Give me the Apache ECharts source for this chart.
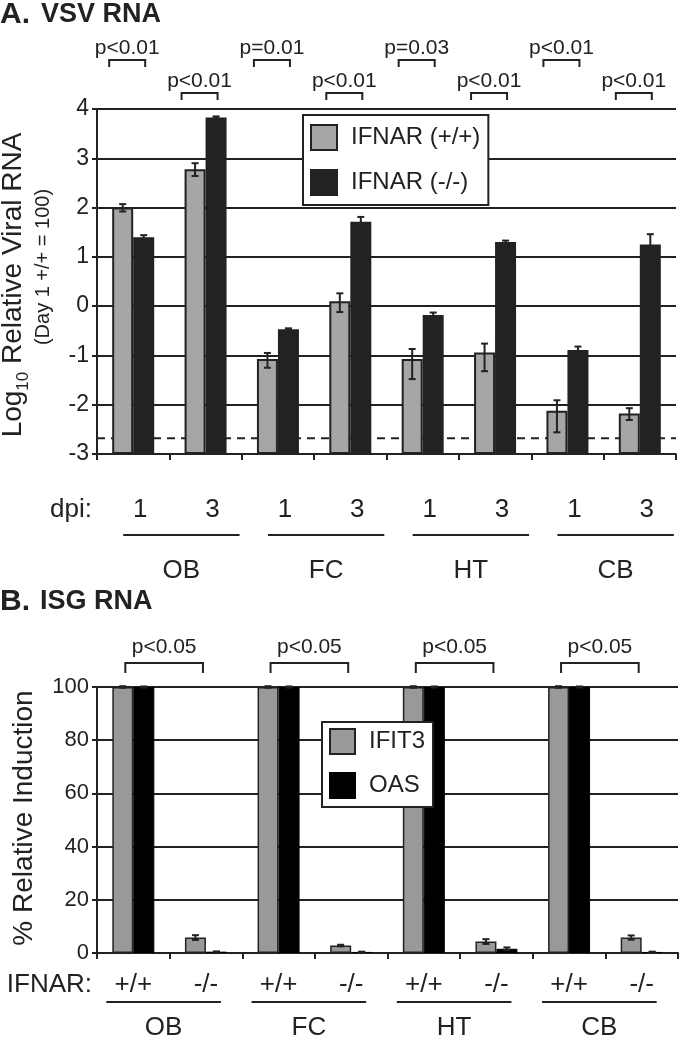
<!DOCTYPE html>
<html><head><meta charset="utf-8">
<script src="https://cdn.jsdelivr.net/npm/echarts@6/dist/echarts.min.js"></script>
<style>html,body{margin:0;padding:0;background:#fff}#c{width:680px;height:1038px}</style>
</head><body><div id="c"></div><script>
// ---------- data ----------
const dpiLabels = ['1', '3', '1', '3', '1', '3', '1', '3'];
const tissues = ['OB', 'FC', 'HT', 'CB'];
const wtVSV     = [2.00, 2.78, -1.07, 0.10, -1.07, -0.94, -2.12, -2.18];
const wtVSVHigh = [2.07, 2.90, -0.95, 0.26, -0.87, -0.76, -1.91, -2.07];
const wtVSVLow  = [1.92, 2.64, -1.25, -0.12, -1.48, -1.32, -2.56, -2.31];
const koVSV     = [1.40, 3.83, -0.47, 1.71, -0.18, 1.30, -0.89, 1.25];
const koVSVHigh = [1.44, 3.85, -0.45, 1.81, -0.13, 1.33, -0.82, 1.46];
const koVSVLow  = [1.36, 3.81, -0.49, 1.61, -0.23, 1.27, -0.96, 1.04];
const vsvAxisMin = -3;
const detectionLimit = -2.68;
const pDay1 = ['p<0.01', 'p=0.01', 'p=0.03', 'p<0.01'];
const pDay3 = ['p<0.01', 'p<0.01', 'p<0.01', 'p<0.01'];
const ifnarLabels = ['+/+', '-/-', '+/+', '-/-', '+/+', '-/-', '+/+', '-/-'];
const ifit3    = [100, 5.8, 100, 2.8, 100, 4.3, 100, 5.8];
const ifit3Err = [0.3, 0.9, 0.3, 0.3, 0.3, 0.9, 0.3, 0.8];
const oas      = [100, 0.5, 100, 0.4, 100, 1.6, 100, 0.4];
const oasErr   = [0.2, 0.1, 0.2, 0.1, 0.2, 0.5, 0.2, 0.1];
const pISG = ['p<0.05', 'p<0.05', 'p<0.05', 'p<0.05'];

// ---------- style ----------
const font = 'Liberation Sans, Arial, Helvetica, sans-serif';
const ink = '#222';
const BW = 21;

function errRender(offset) {
  return function (params, api) {
    const i = api.value(0);
    const hi = api.coord([i, api.value(1)]);
    const lo = api.coord([i, api.value(2)]);
    const x = hi[0] + offset, w = 3.5;
    const st = { stroke: ink, lineWidth: 2 };
    return { type: 'group', children: [
      { type: 'line', shape: { x1: x, y1: hi[1], x2: x, y2: lo[1] }, style: st },
      { type: 'line', shape: { x1: x - w, y1: hi[1], x2: x + w, y2: hi[1] }, style: st },
      { type: 'line', shape: { x1: x - w, y1: lo[1], x2: x + w, y2: lo[1] }, style: st }
    ]};
  };
}
function valAxis(grid, min, max, interval, size) {
  return {
    type: 'value', gridIndex: grid, min, max, interval,
    axisLine: { show: true, lineStyle: { color: ink, width: 2 } },
    axisTick: { show: true, length: 5, lineStyle: { color: ink, width: 2 } },
    axisLabel: { fontSize: size, color: ink, fontFamily: font, margin: 8 },
    splitLine: { show: true, lineStyle: { color: ink, width: 2 } }
  };
}
function catAxis(grid, data, margin, pad) {
  return {
    type: 'category', gridIndex: grid, data,
    axisLine: { onZero: false, lineStyle: { color: ink, width: 2 } },
    axisTick: { show: true, length: 6, lineStyle: { color: ink, width: 2 } },
    axisLabel: { fontSize: 26, color: ink, fontFamily: font, margin, padding: pad }
  };
}
// bars in panel A rise from the bottom of the axis (-3): an invisible base bar
// at the axis minimum is stacked under the visible bar.
const baseA = wtVSV.map(() => vsvAxisMin);
const fromMin = arr => arr.map(v => v - vsvAxisMin);

const chart = echarts.init(document.getElementById('c'), null, { renderer: 'canvas' });
const option = {
  animation: false,
  backgroundColor: '#fff',
  textStyle: { fontFamily: font },
  grid: [
    { left: 97, top: 109, width: 579, height: 345 },
    { left: 97, top: 687, width: 581, height: 266 }
  ],
  xAxis: [catAxis(0, dpiLabels, 43, [0, 0, 0, 14]), catAxis(1, ifnarLabels, 19, [0, 0, 0, 0])],
  yAxis: [valAxis(0, vsvAxisMin, 4, 1, 23), valAxis(1, 0, 100, 20, 22)],
  legend: [
    { data: ['IFNAR (+/+)', 'IFNAR (-/-)'], orient: 'vertical', left: 303, top: 115,
      icon: 'rect', itemWidth: 26, itemHeight: 25, itemGap: 18, padding: [9, 8, 9, 7],
      borderColor: ink, borderWidth: 2, backgroundColor: '#fff',
      textStyle: { fontSize: 24, color: ink, fontFamily: font, padding: [0, 0, 0, 9] } },
    { data: ['IFIT3', 'OAS'], orient: 'vertical', left: 322, top: 722,
      icon: 'rect', itemWidth: 25, itemHeight: 25, itemGap: 17, padding: [6, 8, 8, 7],
      borderColor: ink, borderWidth: 2, backgroundColor: '#fff',
      textStyle: { fontSize: 24, color: ink, fontFamily: font, padding: [0, 0, 0, 9] } }
  ],
  series: [
    { type: 'custom', xAxisIndex: 0, yAxisIndex: 0, z: 1, silent: true,
      data: [[0, detectionLimit]],
      renderItem: function (params, api) {
        const y = api.coord([0, api.value(1)])[1];
        const cs = params.coordSys;
        return { type: 'line', shape: { x1: cs.x, y1: y, x2: cs.x + cs.width, y2: y },
          style: { stroke: ink, lineWidth: 2, lineDash: [8, 6] } };
      } },
    { type: 'bar', xAxisIndex: 0, yAxisIndex: 0, data: baseA, stack: 'g', stackStrategy: 'all',
      barWidth: BW, barGap: '0%', silent: true, itemStyle: { color: 'rgba(0,0,0,0)' } },
    { name: 'IFNAR (+/+)', type: 'bar', xAxisIndex: 0, yAxisIndex: 0, data: fromMin(wtVSV), z: 2,
      stack: 'g', stackStrategy: 'all', barWidth: BW, barGap: '0%',
      itemStyle: { color: '#a6a6a6', borderColor: ink, borderWidth: 2 } },
    { type: 'bar', xAxisIndex: 0, yAxisIndex: 0, data: baseA, stack: 'k', stackStrategy: 'all',
      barWidth: BW, barGap: '0%', silent: true, itemStyle: { color: 'rgba(0,0,0,0)' } },
    { name: 'IFNAR (-/-)', type: 'bar', xAxisIndex: 0, yAxisIndex: 0, data: fromMin(koVSV), z: 2,
      stack: 'k', stackStrategy: 'all', barWidth: BW, barGap: '0%',
      itemStyle: { color: ink, borderColor: ink, borderWidth: 2 } },
    { type: 'custom', xAxisIndex: 0, yAxisIndex: 0, z: 3, silent: true,
      encode: { x: 0, y: [1, 2] },
      data: wtVSV.map((v, i) => [i, wtVSVHigh[i], wtVSVLow[i]]), renderItem: errRender(-BW / 2) },
    { type: 'custom', xAxisIndex: 0, yAxisIndex: 0, z: 3, silent: true,
      encode: { x: 0, y: [1, 2] },
      data: koVSV.map((v, i) => [i, koVSVHigh[i], koVSVLow[i]]), renderItem: errRender(BW / 2) },
    { name: 'IFIT3', type: 'bar', xAxisIndex: 1, yAxisIndex: 1, data: ifit3, z: 2,
      barWidth: BW, barGap: '0%',
      itemStyle: { color: '#999999', borderColor: ink, borderWidth: 1.5 } },
    { name: 'OAS', type: 'bar', xAxisIndex: 1, yAxisIndex: 1, data: oas, z: 2,
      barWidth: BW, barGap: '0%',
      itemStyle: { color: '#000', borderColor: '#000', borderWidth: 1 } },
    { type: 'custom', xAxisIndex: 1, yAxisIndex: 1, z: 3, silent: true,
      encode: { x: 0, y: [1, 2] },
      data: ifit3.map((v, i) => [i, v + ifit3Err[i], v - ifit3Err[i]]), renderItem: errRender(-BW / 2) },
    { type: 'custom', xAxisIndex: 1, yAxisIndex: 1, z: 3, silent: true,
      encode: { x: 0, y: [1, 2] },
      data: oas.map((v, i) => [i, v + oasErr[i], Math.max(0, v - oasErr[i])]), renderItem: errRender(BW / 2) }
  ]
};
chart.setOption(option);

// ---------- annotations ----------
const gfx = [];
function txt(x, y, text, size, opts) {
  opts = opts || {};
  gfx.push({ type: 'text', x, y, rotation: opts.rot || 0, z: 10,
    style: Object.assign({ text, fontSize: size, fontFamily: font, fill: ink,
      align: opts.align || 'center', verticalAlign: 'middle' }, opts.style || {}) });
}
function bracket(x1, x2, yTop, drop) {
  gfx.push({ type: 'polyline', z: 10,
    shape: { points: [[x1, yTop + drop], [x1, yTop], [x2, yTop], [x2, yTop + drop]] },
    style: { stroke: ink, lineWidth: 2, fill: null } });
}
function hline(x1, x2, y) {
  gfx.push({ type: 'line', z: 10, shape: { x1, y1: y, x2, y2: y }, style: { stroke: ink, lineWidth: 2 } });
}
const cx = (axis, i) => chart.convertToPixel({ xAxisIndex: axis }, i);
tissues.forEach((t, k) => {
  const c0 = cx(0, 2 * k), c1 = cx(0, 2 * k + 1);
  bracket(c0 - 24, c0 + 12, 60, 7); txt(c0 - 6, 48, pDay1[k], 21);
  bracket(c1 - 24, c1 + 12, 93, 7); txt(c1 - 6, 81, pDay3[k], 21);
  hline(c0 - 10, c1 + 34, 535); txt((c0 + c1 + 24) / 2, 571, t, 26);
  const d0 = cx(1, 2 * k), d1 = cx(1, 2 * k + 1);
  bracket(d0 - 8, d1 - 3, 663, 10); txt((d0 + d1 - 11) / 2, 647, pISG[k], 21);
  hline(d0 - 27, d1 + 15, 1002); txt((d0 + d1 - 12) / 2, 1028, t, 26);
});
// titles
gfx.push({ type: 'text', x: 0, y: 15, z: 10, style: { text: '{a|A.}{b|VSV RNA}', fontFamily: font,
  fill: ink, align: 'left', verticalAlign: 'middle',
  rich: { a: { fontSize: 30, fontWeight: 'bold', fontFamily: font, fill: ink, padding: [0, 11, 0, 0] },
          b: { fontSize: 27, fontWeight: 'bold', fontFamily: font, fill: ink } } } });
gfx.push({ type: 'text', x: 0, y: 602, z: 10, style: { text: '{a|B.}{b|ISG RNA}', fontFamily: font,
  fill: ink, align: 'left', verticalAlign: 'middle',
  rich: { a: { fontSize: 30, fontWeight: 'bold', fontFamily: font, fill: ink, padding: [0, 10, 0, 0] },
          b: { fontSize: 27, fontWeight: 'bold', fontFamily: font, fill: ink } } } });
// axis titles
gfx.push({ type: 'text', x: 13, y: 285, rotation: Math.PI / 2, z: 10, style: {
  text: '{a|Log}{s|10}{a| Relative Viral RNA}', fontFamily: font, fill: ink,
  align: 'center', verticalAlign: 'middle',
  rich: { a: { fontSize: 28, fontFamily: font, fill: ink },
          s: { fontSize: 17, fontFamily: font, fill: ink, padding: [20, 0, 0, 0] } } } });
txt(43, 267, '(Day 1 +/+ = 100)', 20, { rot: Math.PI / 2 });
txt(24, 818, '% Relative Induction', 28, { rot: Math.PI / 2 });
txt(92, 510, 'dpi:', 26, { align: 'right' });
txt(92, 985, 'IFNAR:', 26, { align: 'right' });
chart.setOption({ graphic: gfx });
</script></body></html>
